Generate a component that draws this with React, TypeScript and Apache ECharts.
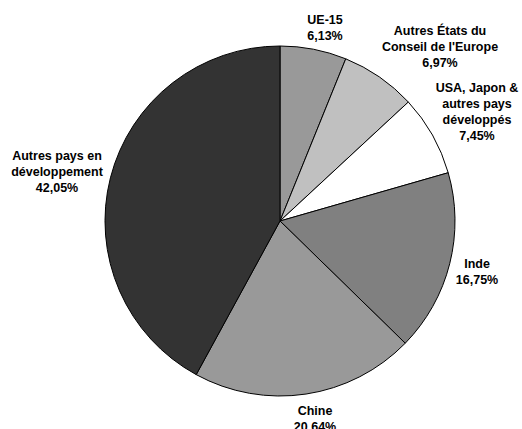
import React, { useEffect, useRef } from "react";
import * as echarts from "echarts";

const categories = [
  "UE-15",
  "Autres États du\nConseil de l'Europe",
  "USA, Japon &\nautres pays\ndéveloppés",
  "Inde",
  "Chine",
  "Autres pays en\ndéveloppement",
];
const values = [6.13, 6.97, 7.45, 16.75, 20.64, 42.05];
const colors = ["#999999", "#c0c0c0", "#ffffff", "#808080", "#999999", "#333333"];
// label anchor points (label layout, not data)
const labelPos = [
  [325, 28],
  [440, 47],
  [477, 112],
  [477, 272],
  [315, 419],
  [57, 172],
];

export default function App() {
  const ref = useRef<HTMLDivElement>(null);
  useEffect(() => {
    const chart = echarts.init(ref.current!, undefined, { renderer: "svg" });
    chart.setOption({
      animation: false,
      backgroundColor: "#ffffff",
      series: [
        {
          type: "pie",
          center: [280, 221],
          radius: 175,
          startAngle: 90,
          clockwise: true,
          avoidLabelOverlap: false,
          data: categories.map((name, i) => ({
            name,
            value: values[i],
            itemStyle: { color: colors[i] },
          })),
          itemStyle: { borderColor: "#000000", borderWidth: 1 },
          label: {
            show: true,
            position: "outside",
            formatter: (p: any) => `${p.name}\n${p.value.toFixed(2).replace(".", ",")}%`,
            fontFamily: "Liberation Sans, Arial, sans-serif",
            fontWeight: "bold",
            fontSize: 12.5,
            lineHeight: 16,
            color: "#000000",
            align: "center",
          },
          labelLine: { show: false },
          labelLayout: (params: any) => ({
            x: labelPos[params.dataIndex][0],
            y: labelPos[params.dataIndex][1],
            align: "center",
            verticalAlign: "middle",
          }),
          emphasis: { disabled: true },
        },
      ],
    });
    return () => chart.dispose();
  }, []);
  return (
    <div
      ref={ref}
      style={{ position: "fixed", left: 0, top: 0, width: 522, height: 429, background: "#fff" }}
    />
  );
}
